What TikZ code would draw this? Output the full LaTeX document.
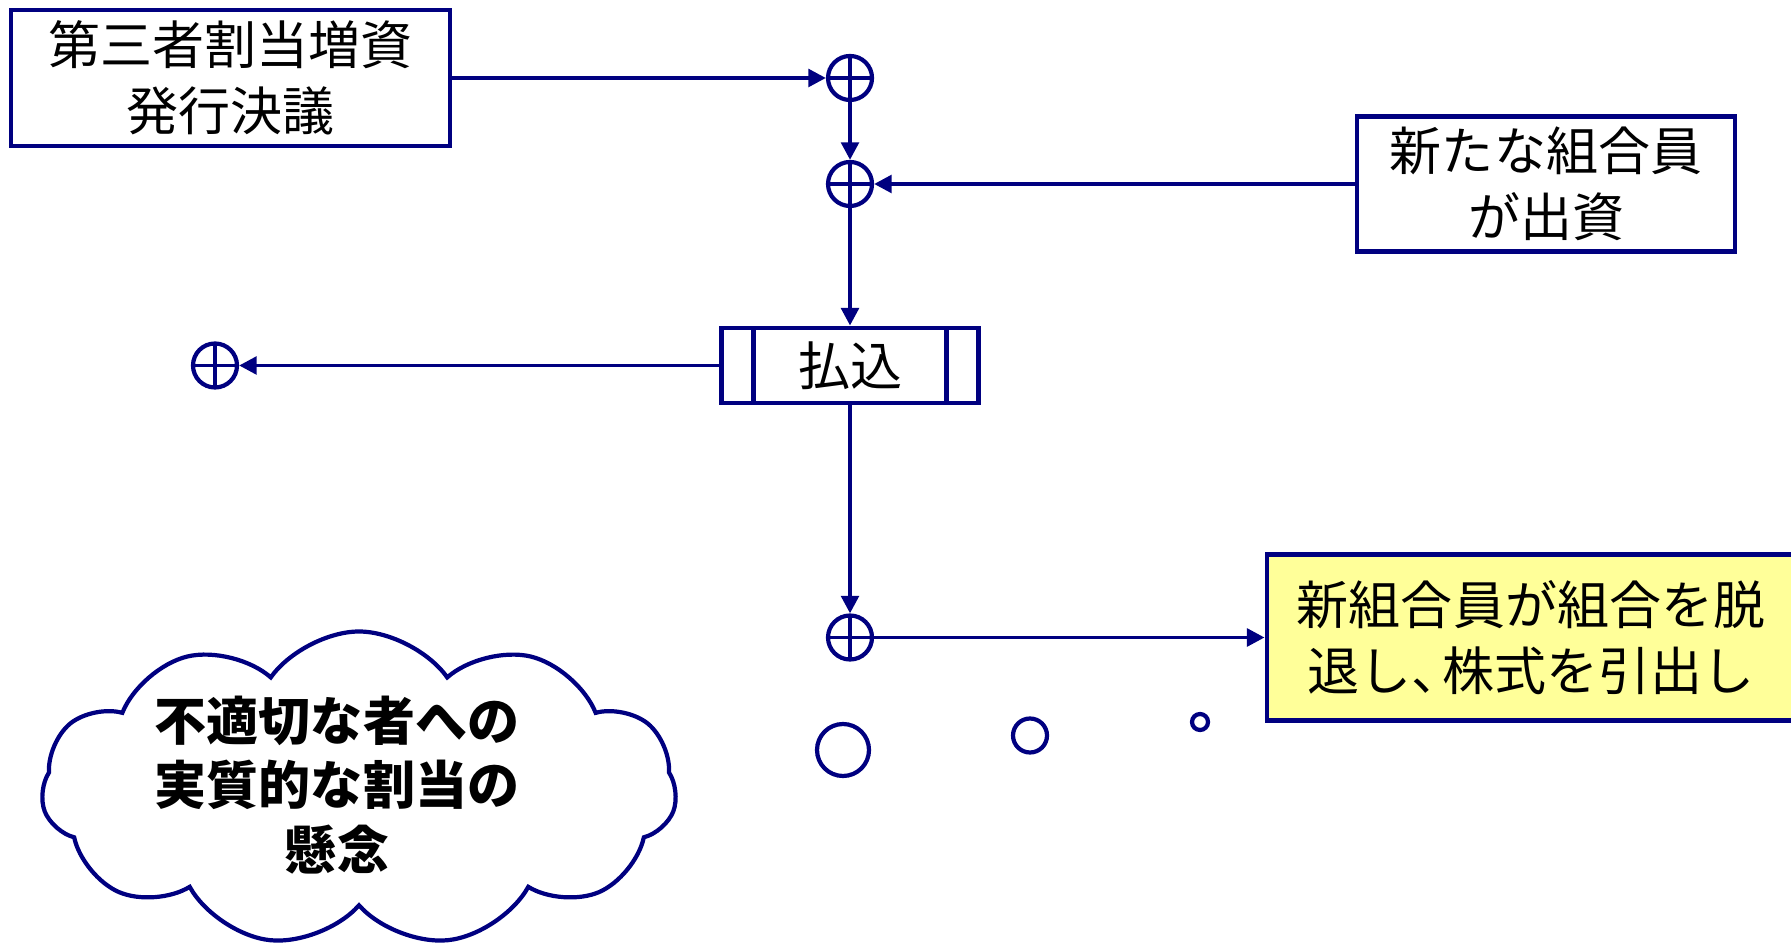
\documentclass[tikz,border=0pt]{standalone}
\usepackage{fontspec}
\setmainfont{Noto Sans CJK JP}
\usepackage{tikz}
\usetikzlibrary{arrows.meta}
\usetikzlibrary{shapes.symbols}
\definecolor{flowblue}{RGB}{0,0,128}
\definecolor{notefill}{RGB}{255,255,153}

\begin{document}
\begin{tikzpicture}[
  flow/.style={draw=flowblue,line width=1.1pt,-{Triangle[length=5pt,width=5pt]}},
  stepbox/.style={draw=flowblue,line width=1.4pt,inner sep=0pt,align=center,font=\fontsize{14.8pt}{18.8pt}\selectfont},
  junction/.style={circle,draw=flowblue,line width=1.2pt,minimum size=0.44cm,inner sep=0pt,path picture={\draw[flowblue,line width=1.1pt] (path picture bounding box.north) -- (path picture bounding box.south) (path picture bounding box.west) -- (path picture bounding box.east);}},
  paybox/.style={stepbox,path picture={\draw[flowblue,line width=1.4pt] ([xshift=0.32cm]path picture bounding box.north west) -- ([xshift=0.32cm]path picture bounding box.south west) ([xshift=-0.32cm]path picture bounding box.north east) -- ([xshift=-0.32cm]path picture bounding box.south east);}},
  bubble/.style={circle,draw=flowblue,line width=1.2pt,inner sep=0pt}]
  \useasboundingbox (0,0) rectangle (17.91,-9.48);
  %top
  \node[stepbox,minimum width=4.39cm,minimum height=1.36cm] (res) at (2.305,-0.78) {第三者割当増資\\発行決議};
  \node[junction] (j1) at (8.50,-0.78) {};
  \node[junction] (j2) at (8.50,-1.84) {};
  \node[stepbox,minimum width=3.78cm,minimum height=1.35cm] (newm) at (15.46,-1.84) {新たな組合員\\が出資};
  %middle
  \node[paybox,minimum width=2.57cm,minimum height=0.75cm] (pay) at (8.50,-3.655) {払込};
  \node[junction] (j3) at (2.15,-3.655) {};
  %bottom
  \node[junction] (j4) at (8.50,-6.375) {};
  \node[stepbox,fill=notefill,minimum width=5.28cm,minimum height=1.66cm] (exit) at (15.31,-6.375) {新組合員が組合を脱\\退し、\kern-0.4em株式を引出し};
  \node[bubble,minimum size=0.52cm] (b1) at (8.43,-7.50) {};
  \node[bubble,minimum size=0.34cm] (b2) at (10.30,-7.355) {};
  \node[bubble,minimum size=0.16cm] (b3) at (12.00,-7.22) {};
  \node[cloud,draw=flowblue,line width=1.2pt,cloud puffs=11,cloud puff arc=110,aspect=2,minimum width=6.35cm,minimum height=3.15cm] (cloudshape) at (3.59,-7.89) {};
  \node[align=center,font=\fontsize{14.8pt}{18.3pt}\selectfont\bfseries] (concern) at (3.37,-7.85) {不適切な者への\\実質的な割当の\\懸念};

  \draw[flow] (res.east) -- (j1.west);
  \draw[flow] (j1.south) -- (j2.north);
  \draw[flow] (newm.west) -- (j2.east);
  \draw[flow] (j2.south) -- (pay.north);
  \draw[flow] (pay.west) -- (j3.east);
  \draw[flow] (pay.south) -- (j4.north);
  \draw[flow] (j4.east) -- (exit.west);
\end{tikzpicture}
\end{document}
